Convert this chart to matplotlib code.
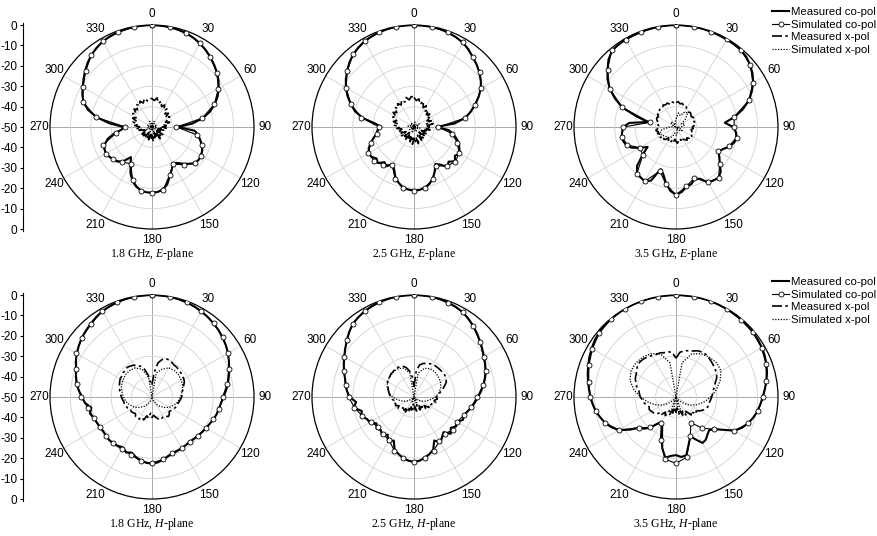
import numpy as np
import matplotlib
matplotlib.use('Agg')
import matplotlib.pyplot as plt

plt.rcParams['font.family'] = ['Liberation Sans', 'DejaVu Sans']
plt.rcParams['mathtext.fontset'] = 'custom'
plt.rcParams['mathtext.rm'] = 'Liberation Serif'
plt.rcParams['mathtext.it'] = 'Liberation Serif:italic'

# ---------------- data (dB) ----------------
ANG5 = np.arange(0, 360, 5)     # measured curves
ANG10 = np.arange(0, 360, 10)   # simulated curves
THETA_TICKS = list(range(0, 360, 30))
R_TICKS = [-40, -30, -20, -10]
LEFT_TICKS = list(range(-50, 51, 10))
LEFT_LABELS = [str(-(50 - abs(v))) for v in LEFT_TICKS]

# 1.8 GHz E-plane
e18_meas_co = [0, -0.1, -0.3, -0.6, -1.1, -1.8, -2.8, -4.0, -5.4, -6.9, -8.4, -10.2, -12.2, -14.5, -17.2, -20.5,
               -24.5, -30, -37, -29, -27, -25.5, -24, -22.8, -22.3, -22, -22.5, -24.5, -26.5, -28.5, -29.5, -27,
               -24.5, -21, -19, -18, -17.8, -17.9, -18.5, -19.8, -22, -25, -29, -32, -28, -26, -25.3, -24.5,
               -24, -24.3, -25.5, -27.5, -31, -35, -36, -29, -22.5, -17.5, -14.3, -12.3, -10.8, -9, -7.2, -5.4,
               -3.8, -2.6, -1.6, -1, -0.6, -0.3, -0.1, 0]
e18_sim_co = [0, -0.2, -1, -2.6, -5.5, -8.5, -12.4, -17.5, -25, -38, -27.5, -23.7, -22, -22.2, -25.8, -29, -24.8, -18.6,
              -17.5, -18, -22.2, -29.2, -27.5, -25.3, -23.8, -24.3, -32, -37, -22, -14, -11, -7.5, -3.8, -1.6, -0.6,
              -0.2]
e18_meas_x = [-36, -37, -35.5, -38, -36.5, -39, -37.5, -40, -38.5, -41, -39.5, -42, -40, -41.5, -43, -41, -44, -42,
              -45, -43, -46, -44, -47, -44.5, -46, -43.5, -47, -44, -46.5, -43, -46, -44, -47, -43.5, -45, -43,
              -46, -44, -47, -43.5, -46.5, -44, -47, -44.5, -46, -43, -45.5, -44, -47, -44.5, -46, -43.5, -45, -42,
              -44, -41.5, -43, -40.5, -42, -39.5, -41, -38.5, -40, -37.5, -39, -36.5, -38, -36, -37.5, -35.5, -37, -36]
e18_sim_x = [-50, -48, -47, -47.5, -49, -50, -48.5, -47.5, -48, -49.5, -48, -47, -47.5, -49, -50, -48.5, -47.5, -48.5,
             -50, -48.5, -47.5, -48.5, -50, -49, -47.5, -47, -48, -49.5, -48, -47.5, -48.5, -50, -49, -47.5, -47, -48]

# 2.5 GHz E-plane
e25_meas_co = [0, -0.1, -0.2, -0.4, -0.8, -1.4, -2.2, -3.5, -5.2, -6.6, -8.2, -10, -12.2, -15, -18.2, -21.2, -24.6,
               -30, -39, -33, -30.5, -28.5, -26.5, -25.5, -24, -25.5, -23.8, -26, -24.5, -27.5, -29, -26, -23, -21,
               -19.8, -19, -18.8, -19.2, -19.8, -21.5, -23.5, -27, -29, -26.5, -27.5, -25, -26, -24.5, -24.5, -25.5,
               -27.5, -29.5, -31.5, -32, -34, -31, -24.5, -20, -17, -14, -11.5, -9.2, -7.2, -5.2, -3.6, -2.4, -1.5,
               -0.9, -0.5, -0.2, -0.1, 0]
e25_sim_co = [0, -0.1, -0.6, -2, -5.2, -8, -12, -18, -24.4, -38, -31, -27.4, -24.5, -23.5, -25, -28, -23, -19.5, -18.6,
              -19.5, -23, -28.5, -26, -24.4, -24.2, -27.4, -31.5, -33, -23.8, -17, -11.6, -7.2, -3.6, -1.5, -0.5, -0.1]
e25_meas_x = [-35.5, -37, -36, -38.5, -36.5, -39.5, -38, -40.5, -39, -41.5, -40, -42.5, -40.5, -43, -41, -44, -40.5,
              -43.5, -41.5, -44.5, -42, -45.5, -43, -46, -42.5, -45, -43.5, -46.5, -43, -45.5, -42.5, -46, -44, -41.5,
              -45, -42, -44.5, -41.5, -45.5, -42.5, -46, -43, -45.5, -42, -46.5, -43.5, -45, -42.5, -45.5, -43, -44.5,
              -42, -44, -41.5, -43, -40.5, -42, -39.5, -41, -38.5, -40, -37.5, -39, -36.5, -38, -36, -37.5, -35.5,
              -37, -35, -36.5, -35]
e25_sim_x = [-49, -47.5, -48, -49.5, -50, -48, -47, -48, -49.5, -48.5, -47, -47.5, -49, -50, -48.5, -47.5, -48, -49.5,
             -50, -48, -47, -48.5, -49.5, -48, -47.5, -48.5, -50, -48.5, -47, -48, -49.5, -49, -47.5, -48, -49.5, -50]

# 3.5 GHz E-plane
e35_meas_co = [0, 0, 0, -0.1, -0.2, -0.3, -0.4, -0.4, -0.6, -1.3, -2.6, -4.2, -6.3, -9, -12, -16, -20.5, -26, -22,
               -20.5, -19.8, -20.5, -22, -24.5, -26, -24, -22, -19, -17.5, -18, -18.6, -22, -23, -21, -20.3, -18,
               -16.8, -18.5, -22, -26, -28, -21, -19.3, -19.8, -20.2, -23, -28.5, -33, -29.5, -26, -24, -23.2, -23,
               -23.5, -24.2, -27, -36, -30, -22, -17, -12.5, -9, -6.2, -3.2, -1.2, -0.7, -0.5, -0.4, -0.3, -0.2,
               -0.1, 0]
e35_sim_co = [0, 0, -0.2, -0.4, -0.7, -2.5, -6.5, -12, -21, -21.5, -19.8, -22.5, -26, -22, -17.5, -18.6, -23.5, -20.5,
              -16.7, -21.5, -27, -19.2, -20.2, -28.8, -29.5, -24.5, -23, -24.2, -37, -22, -12.4, -6.2, -1, -0.6,
              -0.4, -0.1]
e35_meas_x = [-38, -37.5, -38.5, -38, -39, -38.5, -39.5, -40, -40.5, -40, -40.5, -41, -40.5, -40, -41, -40.5, -41.5,
              -41, -42, -41.5, -42.5, -42, -41.5, -42, -41, -42, -41.5, -42.5, -41.5, -42.5, -43, -42, -43.5, -42.5,
              -43, -42, -43, -44, -42.5, -43.5, -42, -43, -42.5, -43.5, -42, -41.5, -42.5, -41, -40.5, -41.5, -40.5,
              -41, -40, -41, -40.5, -41.5, -40.5, -41, -40, -39.5, -40, -39, -39.5, -38.5, -38, -38.5, -37.5, -38,
              -37.5, -38.5, -37.5, -38]
e35_sim_x = [-46, -43, -44, -41.5, -41, -44, -47, -45.5, -46, -48, -49.5, -48, -46.5, -47, -48.5, -50, -48, -46.5,
             -46, -47, -45, -44, -43.5, -43, -42, -41.5, -43, -47, -48.5, -49.5, -48, -46.5, -47, -48.5, -49, -47.5]

# 1.8 GHz H-plane
h18_meas_co = [0, 0, -0.1, -0.3, -0.6, -1, -1.6, -2.2, -3, -3.8, -4.8, -5.8, -7, -8.4, -9.8, -11, -12.2, -13.6, -15,
               -16, -16.8, -17.2, -18, -18.8, -19.5, -20, -20.6, -21, -21.3, -21.2, -21, -20.8, -20.5, -19.8, -18.8,
               -17.8, -17.3, -17.6, -18.5, -19.5, -21, -20, -21.5, -20.8, -20.4, -20.2, -20.6, -20.8, -20.5, -20.2,
               -19.8, -18.5, -19.8, -17, -15.8, -14, -12.4, -11.4, -10.4, -8.8, -7.4, -6.2, -5, -4.1, -3.2, -2.2,
               -1.4, -0.9, -0.5, -0.2, -0.1, 0]
h18_sim_co = [0, -0.1, -0.5, -1.5, -2.8, -4.6, -6.7, -10, -12.5, -15.4, -16.5, -18, -19.5, -20.5, -21, -21, -21, -19,
              -17.6, -18, -20, -20.5, -20.3, -20.5, -20.6, -19.5, -18.3, -15.2, -12.6, -10.5, -7.2, -5, -3.4, -1.3,
              -0.5, -0.1]
h18_meas_x = [-44, -38, -33, -31, -30, -30, -30.5, -31, -31, -31.5, -31.5, -32, -32, -32.5, -33.5, -34, -35, -35,
              -35.5, -36, -36.5, -37, -37, -37.5, -38, -38.5, -39, -38, -37.5, -38.5, -39, -38.5, -38, -39, -40, -41,
              -40, -42, -39.5, -40.5, -38, -39, -37.5, -38, -37.5, -38.5, -38, -37.5, -38, -37, -36.5, -36, -36,
              -35.5, -35, -34.5, -34, -33.5, -33, -32.5, -32, -32, -31.5, -31.5, -31, -31.5, -32, -33, -34, -36, -39,
              -43]
h18_sim_x = [-50, -38, -35.5, -33.5, -33, -33, -33.5, -34, -35, -36, -37, -38.5, -40, -42, -44, -46, -48, -50, -50,
             -50, -48, -46, -44, -42, -40, -38.5, -37, -36, -35, -34, -33.5, -33, -33, -33.5, -35.5, -40]

# 2.5 GHz H-plane
h25_meas_co = [0, 0, -0.1, -0.4, -0.8, -1.3, -2.1, -3.3, -4.7, -6.2, -7.7, -9.1, -10.4, -11.5, -12.6, -13.9, -15.4,
               -17, -18.6, -20, -21.3, -22.8, -24, -23.5, -25.5, -24.8, -26.5, -24.5, -27.5, -26, -24, -26.5, -22.5,
               -21, -19.8, -18.6, -18.2, -18.6, -19.6, -21, -22.3, -26.5, -24.5, -27.5, -25.5, -27, -26, -27.5, -25,
               -24.5, -22.5, -23.5, -20, -21.5, -18.5, -17, -16, -15, -13.5, -12, -10.5, -8.8, -7, -5, -3.3, -2.3,
               -1.5, -0.9, -0.5, -0.2, -0.1, 0]
h25_sim_co = [0, 0, -0.8, -2, -4.8, -7.8, -10.6, -12.7, -15.5, -19, -21.6, -24, -25.5, -25, -26.5, -25, -22, -19.5,
              -18, -19.5, -22, -25.5, -26.5, -27, -25.7, -23, -20.3, -18, -16, -13.4, -10.5, -6.9, -3.1, -1.5, -0.5, 0]
h25_meas_x = [-45, -37, -34, -33, -32.5, -32, -31.5, -31.5, -31.5, -31.5, -31.5, -31.5, -32, -32.5, -34, -35.5, -37,
              -38, -39, -38.5, -40, -39, -40.5, -41, -42, -41, -43.5, -42, -44, -42.5, -45, -43, -46, -44, -43,
              -45.5, -44, -46.5, -43.5, -45, -42, -44.5, -41.5, -43, -41, -42.5, -41.5, -40.5, -41.5, -40, -40.5,
              -39.5, -40, -39, -38.5, -38, -37.5, -37, -36.5, -36, -35, -34.5, -34.5, -34, -34, -33.5, -33.5, -33.5,
              -34, -35, -37, -40]
h25_sim_x = [-50, -38, -35, -34, -34, -34.5, -35, -36, -37.5, -39.5, -42, -44, -46, -48, -49.5, -48, -47, -48.5, -50,
             -48.5, -47, -48, -49.5, -48, -46, -44, -42, -39.5, -37.5, -36, -35, -34.5, -34, -34, -35, -38]

# 3.5 GHz H-plane
h35_meas_co = [0, 0, 0, 0, 0, -0.1, -0.2, -0.3, -0.4, -0.5, -0.7, -1, -1.4, -2, -2.8, -3.8, -5, -6.3, -7.5, -8.5,
               -9.5, -10.8, -12.4, -14.3, -17, -22, -25.5, -27, -26, -24.5, -24, -27, -29.5, -26, -21, -20.5, -21.5,
               -21, -19.8, -24, -30, -34, -36, -34, -30.5, -28, -26.5, -22, -17.5, -15, -13, -11.5, -10, -9, -8,
               -7.2, -6.2, -5.2, -4.2, -3.2, -2.3, -1.4, -0.8, -0.4, -0.2, -0.1, 0, 0, 0, 0, 0, 0]
h35_sim_co = [0, 0, 0, -0.3, -0.5, -0.8, -1.6, -3, -5, -7.2, -9.3, -12.2, -17, -25.5, -30, -35.5, -29.4, -20, -17.5,
              -19, -27.8, -35.5, -30.5, -26.6, -17.7, -13, -10, -8, -6.5, -4.6, -2.7, -1, -0.3, 0, 0, 0]
h35_meas_x = [-31, -28, -27, -26.5, -26, -25, -24.5, -24.5, -25, -25.5, -26, -26.5, -27, -28, -29.5, -30.5, -31.5,
              -32, -32.5, -33, -33.5, -33.5, -34, -35, -36.5, -38, -37, -40, -38.5, -41.5, -39.5, -42.5, -40.5, -43.5,
              -41.5, -44.5, -42.5, -45, -41.5, -43.5, -40.5, -42.5, -39.5, -41, -38.5, -39, -37, -36.5, -36, -35.5,
              -36, -35, -34, -33.5, -32.5, -32, -31.5, -30, -29, -28, -27.5, -26.5, -25.5, -25.3, -25.5, -26, -26.5,
              -27, -27, -27.5, -27.5, -28]
h35_sim_x = [-50, -33, -27.5, -25.5, -24.5, -24, -24.5, -27, -30, -33, -36, -39, -42, -45, -48, -50, -44, -42, -50,
             -42, -44, -50, -48, -45, -42, -39, -36, -32.5, -29, -26, -24.5, -24.2, -24.5, -25.5, -27.5, -33]

PANELS = [
    ("1.8 GHz, $\\it{E}$-plane", e18_meas_co, e18_sim_co, e18_meas_x, e18_sim_x),
    ("2.5 GHz, $\\it{E}$-plane", e25_meas_co, e25_sim_co, e25_meas_x, e25_sim_x),
    ("3.5 GHz, $\\it{E}$-plane", e35_meas_co, e35_sim_co, e35_meas_x, e35_sim_x),
    ("1.8 GHz, $\\it{H}$-plane", h18_meas_co, h18_sim_co, h18_meas_x, h18_sim_x),
    ("2.5 GHz, $\\it{H}$-plane", h25_meas_co, h25_sim_co, h25_meas_x, h25_sim_x),
    ("3.5 GHz, $\\it{H}$-plane", h35_meas_co, h35_sim_co, h35_meas_x, h35_sim_x),
]
LEGEND_LABELS = ["Measured co-pol", "Simulated co-pol", "Measured x-pol", "Simulated x-pol"]

# ---------------- figure ----------------
W, H = 878, 536
fig = plt.figure(figsize=(W / 100, H / 100), dpi=100)

centers_x = [152, 414, 676]
centers_y = [127, 397]
R = 102
FS = 8.5


def closed(ang, vals):
    a = np.deg2rad(np.append(ang, ang[0] + 360))
    v = np.append(np.asarray(vals, float), vals[0])
    return a, v


for i, (title, mco, sco, mx, sx) in enumerate(PANELS):
    cx = centers_x[i % 3]
    cy = centers_y[i // 3]
    ax = fig.add_axes([(cx - R) / W, 1 - (cy + R) / H, 2 * R / W, 2 * R / H], projection='polar')
    ax.set_theta_zero_location('N')
    ax.set_theta_direction(-1)
    ax.set_ylim(-50, 0)

    a, v = closed(ANG5, mco)
    l1, = ax.plot(a, v, color='black', lw=1.5, label=LEGEND_LABELS[0], zorder=4)
    a, v = closed(ANG10, sco)
    l2, = ax.plot(a, v, color='black', lw=0.8, marker='o', ms=3.6, mfc='white', mec='black', mew=0.6,
                  label=LEGEND_LABELS[1], zorder=5)
    a, v = closed(ANG5, mx)
    l3, = ax.plot(a, v, color='black', lw=1.2, linestyle=(0, (6, 2, 1.5, 2)), label=LEGEND_LABELS[2], zorder=3)
    a, v = closed(ANG10, sx)
    l4, = ax.plot(a, v, color='black', lw=0.9, linestyle=(0, (1, 1.2)), label=LEGEND_LABELS[3], zorder=3)

    ax.set_rgrids(R_TICKS, labels=[''] * len(R_TICKS))
    ax.set_xticks(np.deg2rad(THETA_TICKS))
    ax.set_xticklabels([str(t) for t in THETA_TICKS], fontsize=FS)
    ax.tick_params(axis='x', pad=-2.5)
    ax.grid(True, color='#d2d2d2', lw=0.6)
    for k, gl in enumerate(ax.xaxis.get_gridlines()):
        if THETA_TICKS[k] % 90 == 0:
            gl.set_color('#9a9a9a')
    ax.spines['polar'].set_linewidth(0.9)
    ax.spines['polar'].set_color('black')
    ax.set_facecolor('white')

    fig.text(cx / W, 1 - (cy + 126.5) / H, title, ha='center', va='center', fontsize=FS,
             family=['Liberation Serif', 'DejaVu Serif'])

    if i % 3 == 0:
        lax = fig.add_axes([23 / W, 1 - (cy + R + 2) / H, 0.001, (2 * R + 4) / H])
        lax.set_ylim(-50 - 50 * 2 / R, 50 + 50 * 2 / R)
        lax.set_xticks([])
        lax.set_yticks(LEFT_TICKS)
        lax.set_yticklabels(LEFT_LABELS, fontsize=FS)
        for s in ['top', 'right', 'bottom']:
            lax.spines[s].set_visible(False)
        lax.spines['left'].set_linewidth(0.8)
        lax.tick_params(axis='y', length=2.5, width=0.8, direction='out', pad=1.5)
        lax.patch.set_visible(False)

    if i % 3 == 2:
        fig.legend(handles=[l1, l2, l3, l4], loc='upper left',
                   bbox_to_anchor=(772 / W, 1 - (cy - 120) / H),
                   frameon=False, fontsize=8.2, handlelength=1.5, handletextpad=0.15,
                   labelspacing=0.22, borderpad=0, borderaxespad=0, numpoints=1)

fig.savefig('out.png', dpi=100)
